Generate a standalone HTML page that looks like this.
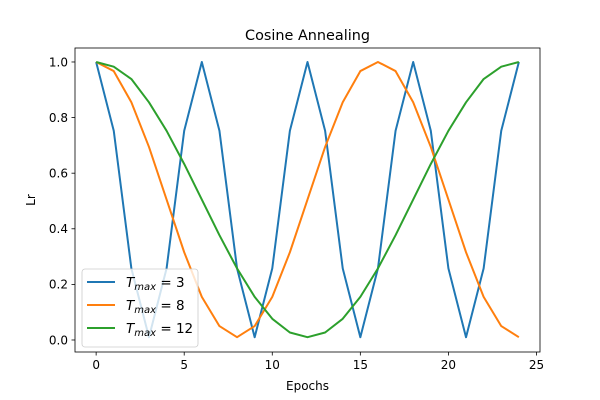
<!DOCTYPE html>
<html><head><meta charset="utf-8">
<style>
html,body{margin:0;padding:0;background:#fff;}
svg{display:block;font-family:"DejaVu Sans","Liberation Sans",sans-serif;}
</style></head>
<body>
<svg id="chart" width="600" height="400" viewBox="0 0 600 400">
<rect width="600" height="400" fill="#fff"/>
<text x="307.5" y="40" text-anchor="middle" font-size="14.4">Cosine Annealing</text>
<g id="plot"></g>
<text x="307.5" y="390" text-anchor="middle" font-size="12">Epochs</text>
<text transform="translate(35,200) rotate(-90)" text-anchor="middle" font-size="12">Lr</text>
</svg>
<script>
const epochs = [0,1,2,3,4,5,6,7,8,9,10,11,12,13,14,15,16,17,18,19,20,21,22,23,24];
const tmax3 = [1,.7525,.2575,.01,.2575,.7525,1,.7525,.2575,.01,.2575,.7525,1,.7525,.2575,.01,.2575,.7525,1,.7525,.2575,.01,.2575,.7525,1];
const tmax8 = [1,.9673,.855,.6944,.505,.3156,.155,.05,.01,.05,.155,.3156,.505,.6944,.855,.9673,1,.9673,.855,.6944,.505,.3156,.155,.05,.01];
const tmax12 = [1,.9831,.9387,.855,.7525,.6331,.505,.3769,.2575,.155,.0763,.0269,.01,.0269,.0763,.155,.2575,.3769,.505,.6331,.7525,.855,.9387,.9831,1];
const xTicks = [0,5,10,15,20,25];
const yTicks = [0.0,0.2,0.4,0.6,0.8,1.0];
const seriesLabels = ["3","8","12"];

const L=75,R=540,T=48,B=352;
const xMin=-1.2,xMax=25.2,yMin=-0.0432,yMax=1.0503;
const sx=v=>L+(v-xMin)/(xMax-xMin)*(R-L);
const sy=v=>B-(v-yMin)/(yMax-yMin)*(B-T);
const NS="http://www.w3.org/2000/svg";
const g=document.getElementById('plot');
function mk(tag,attrs,parent){const e=document.createElementNS(NS,tag);for(const k in attrs)e.setAttribute(k,attrs[k]);(parent||g).appendChild(e);return e;}

const colors=["#1f77b4","#ff7f0e","#2ca02c"];
const all=[tmax3,tmax8,tmax12];
all.forEach((s,i)=>{
  const p=mk('polyline',{points:s.map((v,j)=>sx(epochs[j])+','+sy(v)).join(' '),fill:'none',stroke:colors[i],'stroke-width':2,'stroke-linejoin':'round'});
  
  
});

const frame=mk('rect',{x:L,y:T,width:R-L,height:B-T,fill:'none',stroke:'#000','stroke-width':0.8});



xTicks.forEach(v=>{
  const x=sx(v);
  mk('line',{x1:x,x2:x,y1:B,y2:B+3.5,stroke:'#000','stroke-width':0.8});
  const t=mk('text',{x:x,y:B+17,'text-anchor':'middle','font-size':12});
  t.textContent=v;
  
  
});
yTicks.forEach(v=>{
  const y=sy(v);
  mk('line',{x1:L-3.5,x2:L,y1:y,y2:y,stroke:'#000','stroke-width':0.8});
  const t=mk('text',{x:L-7,y:y+4.3,'text-anchor':'end','font-size':12});
  t.textContent=v.toFixed(1);
  
  
});

const lg=mk('g',{});


mk('rect',{x:82,y:269,width:116,height:78,rx:3,fill:'#fff','fill-opacity':0.8,stroke:'#ccc','stroke-width':0.8},lg);
seriesLabels.forEach((lab,i)=>{
  const y=282+i*23;
  const entry=mk('g',{},lg);
  
  
  mk('line',{x1:87,x2:115,y1:y,y2:y,stroke:colors[i],'stroke-width':2},entry);
  const t=mk('text',{x:126,y:y+5,'font-size':13.5},entry);
  t.innerHTML='<tspan font-style="italic">T</tspan><tspan font-style="italic" font-size="10" dy="3">max</tspan><tspan dy="-3"> = '+lab+'</tspan>';
});
</script>
</body></html>
